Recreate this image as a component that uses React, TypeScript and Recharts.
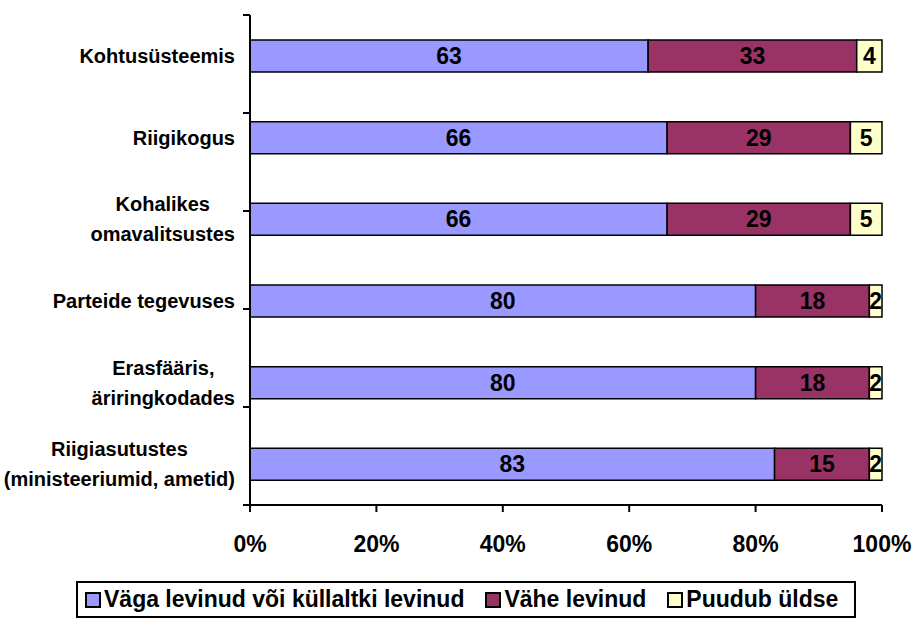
import { BarChart, Bar, XAxis, YAxis, Legend, LabelList } from "recharts";

const categories = [
  "Kohtusüsteemis",
  "Riigikogus",
  "Kohalikes\nomavalitsustes",
  "Parteide tegevuses",
  "Erasfääris,\näriringkodades",
  "Riigiasutustes\n(ministeeriumid, ametid)",
];
const widespread = [63, 66, 66, 80, 80, 83];
const rare = [33, 29, 29, 18, 18, 15];
const absent = [4, 5, 5, 2, 2, 2];
const xTicks = [0, 20, 40, 60, 80, 100];
const boundaryTicks = [0, 1, 2, 3, 4, 5, 6];

const seriesNames = ["Väga levinud või küllaltki levinud", "Vähe levinud", "Puudub üldse"];
const colors = ["#9999FF", "#993366", "#FFFFCC"];

const data = categories.map((name, i) => ({
  name,
  widespread: widespread[i],
  rare: rare[i],
  absent: absent[i],
}));

const FONT = "'Liberation Sans', Arial, sans-serif";

let ctx: CanvasRenderingContext2D | null = null;
function textWidth(s: string, font: string) {
  if (!ctx) ctx = document.createElement("canvas").getContext("2d");
  if (!ctx) return s.length * 10;
  ctx.font = font;
  return ctx.measureText(s).width;
}

// multi-line labels: lines centred on each other, block right-aligned
function CategoryTick(props: any) {
  const { y, payload } = props;
  const lines = String(payload.value).split("\n");
  const font = `bold 20px ${FONT}`;
  const maxW = Math.max(...lines.map((l) => textWidth(l, font)));
  const cx = 235 - maxW / 2;
  const lh = 30;
  const y0 = y - ((lines.length - 1) * lh) / 2;
  return (
    <text
      textAnchor="middle"
      fontFamily={FONT}
      fontSize={20}
      fontWeight="bold"
      fill="#000"
    >
      {lines.map((l, i) => (
        <tspan key={i} x={cx} y={y0 + i * lh} dominantBaseline="central">
          {l}
        </tspan>
      ))}
    </text>
  );
}

function LegendBox() {
  return (
    <div
      style={{
        boxSizing: "border-box",
        width: 780,
        height: 37,
        border: "2px solid #000",
        display: "flex",
        alignItems: "center",
        paddingLeft: 7,
        fontFamily: FONT,
        fontWeight: "bold",
        fontSize: 23,
        color: "#000",
        background: "#fff",
        whiteSpace: "nowrap",
        overflow: "hidden",
      }}
    >
      {seriesNames.map((n, i) => (
        <div key={n} style={{ display: "flex", alignItems: "center", marginRight: 21, flexShrink: 0 }}>
          <span
            style={{
              display: "inline-block",
              boxSizing: "border-box",
              width: 16,
              height: 16,
              border: "2px solid #000",
              background: colors[i],
              marginRight: 3,
            }}
          />
          <span>{n}</span>
        </div>
      ))}
    </div>
  );
}

export default function App() {
  return (
    <div style={{ position: "absolute", left: 0, top: 0, background: "#fff" }}>
      <BarChart
        width={913}
        height={619}
        data={data}
        layout="vertical"
        margin={{ top: 15, right: 31, bottom: 17, left: 0 }}
        style={{ fontFamily: FONT }}
      >
        {/* frame axis: draws the axis line and the ticks between categories */}
        <YAxis
          yAxisId="edges"
          type="number"
          domain={[0, 6]}
          ticks={boundaryTicks}
          allowDataOverflow
          width={1}
          tickFormatter={() => ""}
          tickSize={7}
          axisLine={{ stroke: "#000", strokeWidth: 2 }}
          tickLine={{ stroke: "#000", strokeWidth: 2 }}
        />
        <YAxis
          yAxisId="labels"
          type="category"
          dataKey="name"
          width={249}
          axisLine={false}
          tickLine={false}
          tick={<CategoryTick />}
          interval={0}
        />
        <XAxis
          type="number"
          domain={[0, 100]}
          ticks={xTicks}
          tickFormatter={(v) => `${v}%`}
          height={60}
          tickSize={7}
          tickMargin={24}
          axisLine={{ stroke: "#000", strokeWidth: 2 }}
          tickLine={{ stroke: "#000", strokeWidth: 2 }}
          tick={{ fontSize: 23, fontWeight: "bold", fill: "#000", fontFamily: FONT }}
        />
        <Legend
          content={<LegendBox />}
          wrapperStyle={{ left: 76, top: 581, width: 780, height: 37 }}
        />
        <Bar dataKey="widespread" name={seriesNames[0]} stackId="a" yAxisId="labels" fill={colors[0]} stroke="#000" strokeWidth={1.5} barSize={32} isAnimationActive={false}>
          <LabelList dataKey="widespread" position="center" fill="#000" fontSize={23} fontWeight="bold" fontFamily={FONT} />
        </Bar>
        <Bar dataKey="rare" name={seriesNames[1]} stackId="a" yAxisId="labels" fill={colors[1]} stroke="#000" strokeWidth={1.5} barSize={32} isAnimationActive={false}>
          <LabelList dataKey="rare" position="center" fill="#000" fontSize={23} fontWeight="bold" fontFamily={FONT} />
        </Bar>
        <Bar dataKey="absent" name={seriesNames[2]} stackId="a" yAxisId="labels" fill={colors[2]} stroke="#000" strokeWidth={1.5} barSize={32} isAnimationActive={false}>
          <LabelList dataKey="absent" position="center" fill="#000" fontSize={23} fontWeight="bold" fontFamily={FONT} />
        </Bar>
      </BarChart>
    </div>
  );
}
